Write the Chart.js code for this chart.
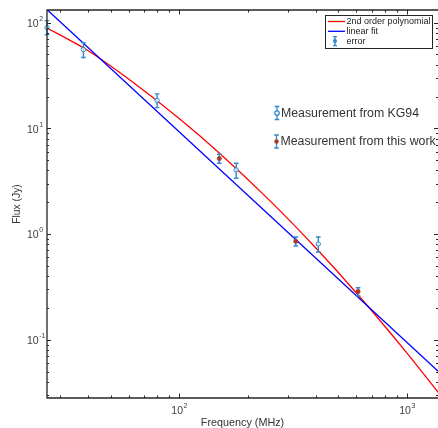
<!DOCTYPE html>
<html>
<head>
<meta charset="utf-8">
<script src="https://cdn.jsdelivr.net/npm/chart.js@4.4.1/dist/chart.umd.min.js"></script>
<style>
  html, body { margin: 0; padding: 0; background: #fff; }
</style>
</head>
<body>
<canvas id="fluxChart" width="438" height="428"></canvas>
<script>
// Measurements from KG94 (MHz, Jy) with error bar ends
const kgFreq = [26.3, 38, 80, 178, 408];
const kgFlux = [89.8, 55.6, 18.4, 4.05, 0.805];
const kgLow  = [77.1, 46.8, 15.7, 3.37, 0.676];
const kgHigh = [104.5, 64.7, 21.2, 4.68, 0.938];

// Measurements from this work
const workFreq = [150, 325, 610];
const workFlux = [5.18, 0.853, 0.286];
const workLow  = [4.68, 0.771, 0.26];
const workHigh = [5.69, 0.938, 0.31];

// 2nd order polynomial fit
const polyFreq = [26.3, 40, 60, 100, 150, 250, 400, 600, 1000, 1370];
const polyFlux = [89, 54, 29.3, 12.4, 5.85, 2.07, 0.73, 0.277, 0.0748, 0.0318];

// linear fit (straight line in log-log)
const linFreq = [26.3, 1370];
const linFlux = [133, 0.0503];

// decade tick labels
const xDecades = [100, 1000];
const yDecades = [0.1, 1, 10, 100];

const FONT = '"Liberation Sans", Arial, Helvetica, sans-serif';
const SPINE = '#262626';
const BAR_BLUE = '#2f89cc';
const WORK_RED = '#a8382a';

const toPts = (xs, ys) => xs.map((x, i) => ({ x: x, y: ys[i] }));

// minor tick values (2..9 x 10^k) inside [min, max]
function minorValues(min, max) {
  const out = [];
  for (let k = Math.floor(Math.log10(min)); k <= Math.ceil(Math.log10(max)); k++) {
    for (let m = 1; m <= 9; m++) {
      const v = m * Math.pow(10, k);
      if (v >= min && v <= max) out.push({ v: v, major: m === 1 });
    }
  }
  return out;
}

function drawErrorBars(ctx, chart, freq, low, high) {
  const xs = chart.scales.x, ys = chart.scales.y;
  ctx.save();
  ctx.strokeStyle = BAR_BLUE;
  ctx.lineWidth = 1.4;
  freq.forEach((f, i) => {
    const px = xs.getPixelForValue(f);
    const y1 = ys.getPixelForValue(low[i]);
    const y2 = ys.getPixelForValue(high[i]);
    ctx.beginPath();
    ctx.moveTo(px, y1); ctx.lineTo(px, y2);
    ctx.moveTo(px - 2.3, y1); ctx.lineTo(px + 2.3, y1);
    ctx.moveTo(px - 2.3, y2); ctx.lineTo(px + 2.3, y2);
    ctx.stroke();
  });
  ctx.restore();
}

// error bars go on top of the fit lines, under the markers
const errorBars = {
  id: 'errorBars',
  afterDatasetDraw(chart, args) {
    if (args.index !== 1) return;
    const ctx = chart.ctx;
    drawErrorBars(ctx, chart, kgFreq, kgLow, kgHigh);
    drawErrorBars(ctx, chart, workFreq, workLow, workHigh);
  }
};

function powerLabel(ctx, x, y, exp, align) {
  ctx.font = '10.5px ' + FONT;
  const base = '10';
  const bw = ctx.measureText(base).width;
  ctx.font = '7px ' + FONT;
  const ew = ctx.measureText(exp).width;
  let left = x;
  if (align === 'center') left = x - (bw + ew) / 2;
  ctx.font = '10.5px ' + FONT;
  ctx.textBaseline = 'middle';
  ctx.textAlign = 'left';
  ctx.fillText(base, left, y);
  ctx.font = '7px ' + FONT;
  ctx.fillText(exp, left + bw + 0.5, y - 5);
}

const frame = {
  id: 'frame',
  afterDraw(chart) {
    const ctx = chart.ctx;
    const a = chart.chartArea;
    const xs = chart.scales.x, ys = chart.scales.y;
    ctx.save();
    // left, top and bottom spines (right spine falls just outside the canvas)
    ctx.strokeStyle = SPINE;
    ctx.lineWidth = 1.3;
    ctx.beginPath();
    ctx.moveTo(a.right, a.top); ctx.lineTo(a.left, a.top);
    ctx.lineTo(a.left, a.bottom); ctx.lineTo(a.right, a.bottom);
    ctx.stroke();

    // inward ticks
    ctx.lineWidth = 1;
    minorValues(xs.min, xs.max).forEach(t => {
      const px = Math.round(xs.getPixelForValue(t.v)) + 0.5;
      const len = t.major ? 4.5 : 2.5;
      ctx.beginPath();
      ctx.moveTo(px, a.bottom); ctx.lineTo(px, a.bottom - len);
      ctx.moveTo(px, a.top); ctx.lineTo(px, a.top + len);
      ctx.stroke();
    });
    minorValues(ys.min, ys.max).forEach(t => {
      const py = Math.round(ys.getPixelForValue(t.v)) + 0.5;
      const len = t.major ? 4 : 2;
      ctx.beginPath();
      ctx.moveTo(a.left, py); ctx.lineTo(a.left + len, py);
      ctx.moveTo(a.right, py); ctx.lineTo(a.right - len, py);
      ctx.stroke();
    });

    // tick labels
    ctx.fillStyle = '#404040';
    xDecades.forEach(v => {
      powerLabel(ctx, xs.getPixelForValue(v), a.bottom + 13, String(Math.round(Math.log10(v))), 'center');
    });
    yDecades.forEach(v => {
      powerLabel(ctx, 27, ys.getPixelForValue(v) + 1.5, String(Math.round(Math.log10(v))), 'left');
    });

    // legend box
    const rows = [
      { text: '2nd order polynomial', color: '#ff0000', type: 'line' },
      { text: 'linear fit', color: '#0000ff', type: 'line' },
      { text: 'error', color: BAR_BLUE, type: 'bar' }
    ];
    const bx = 325, by = 15, bw = 107, bh = 33;
    ctx.fillStyle = '#fff';
    ctx.fillRect(bx, by, bw, bh);
    ctx.strokeStyle = SPINE;
    ctx.lineWidth = 1;
    ctx.strokeRect(bx + 0.5, by + 0.5, bw, bh);
    ctx.font = '9px ' + FONT;
    ctx.textBaseline = 'middle';
    ctx.textAlign = 'left';
    rows.forEach((r, i) => {
      const ry = by + 6.5 + i * 9.8;
      if (r.type === 'line') {
        ctx.strokeStyle = r.color;
        ctx.lineWidth = 1.3;
        ctx.beginPath();
        ctx.moveTo(bx + 3, ry); ctx.lineTo(bx + 20, ry);
        ctx.stroke();
      } else {
        ctx.strokeStyle = r.color;
        ctx.lineWidth = 1.4;
        ctx.beginPath();
        ctx.moveTo(bx + 10, ry - 4.5); ctx.lineTo(bx + 10, ry + 4.5);
        ctx.moveTo(bx + 8, ry - 4.5); ctx.lineTo(bx + 12, ry - 4.5);
        ctx.moveTo(bx + 8, ry + 4.5); ctx.lineTo(bx + 12, ry + 4.5);
        ctx.stroke();
        ctx.fillStyle = r.color;
        ctx.beginPath(); ctx.arc(bx + 10, ry, 2, 0, Math.PI * 2); ctx.fill();
      }
      ctx.fillStyle = '#222';
      ctx.fillText(r.text, bx + 21.5, ry + 0.5);
    });

    // in-plot annotations
    const notes = [
      { text: 'Measurement from KG94', x: 277, y: 113, open: true },
      { text: 'Measurement from this work', x: 276.5, y: 141.5, open: false }
    ];
    notes.forEach(n => {
      ctx.strokeStyle = BAR_BLUE;
      ctx.lineWidth = 1.3;
      ctx.beginPath();
      ctx.moveTo(n.x, n.y - 6.5); ctx.lineTo(n.x, n.y + 6.5);
      ctx.moveTo(n.x - 2.3, n.y - 6.5); ctx.lineTo(n.x + 2.3, n.y - 6.5);
      ctx.moveTo(n.x - 2.3, n.y + 6.5); ctx.lineTo(n.x + 2.3, n.y + 6.5);
      ctx.stroke();
      ctx.beginPath(); ctx.arc(n.x, n.y, 2.2, 0, Math.PI * 2);
      if (n.open) {
        ctx.fillStyle = '#fff'; ctx.fill(); ctx.stroke();
      } else {
        ctx.fillStyle = WORK_RED; ctx.fill();
      }
      ctx.fillStyle = '#333';
      ctx.font = '12.3px ' + FONT;
      ctx.textBaseline = 'middle';
      ctx.fillText(n.text, n.x + 4, n.y + 0.5);
    });
    ctx.restore();
  }
};

const ctx = document.getElementById('fluxChart').getContext('2d');
const fluxChart = new Chart(ctx, {
  type: 'line',
  data: {
    datasets: [
      {
        label: '2nd order polynomial',
        data: toPts(polyFreq, polyFlux),
        borderColor: '#ff0000',
        borderWidth: 1.3,
        pointRadius: 0,
        cubicInterpolationMode: 'monotone',
        order: 4
      },
      {
        label: 'linear fit',
        data: toPts(linFreq, linFlux),
        borderColor: '#0000ff',
        borderWidth: 1.3,
        pointRadius: 0,
        order: 3
      },
      {
        label: 'Measurement from KG94',
        data: toPts(kgFreq, kgFlux),
        showLine: false,
        pointRadius: 2.2,
        pointBorderWidth: 1,
        pointBorderColor: BAR_BLUE,
        pointBackgroundColor: 'rgba(255,255,255,0.7)',
        clip: false,
        order: 2
      },
      {
        label: 'Measurement from this work',
        data: toPts(workFreq, workFlux),
        showLine: false,
        pointRadius: 2.2,
        pointBorderWidth: 0.5,
        pointBorderColor: WORK_RED,
        pointBackgroundColor: WORK_RED,
        clip: false,
        order: 1
      }
    ]
  },
  options: {
    responsive: false,
    animation: false,
    devicePixelRatio: 1,
    layout: { autoPadding: false, padding: { top: 10, right: 0, left: 0, bottom: 0 } },
    plugins: {
      legend: { display: false },
      tooltip: { enabled: false }
    },
    scales: {
      x: {
        type: 'logarithmic',
        min: 26.3,
        max: 1368,
        grid: { display: false },
        border: { display: false },
        ticks: { display: false },
        title: {
          display: true,
          text: 'Frequency (MHz)',
          color: '#333',
          font: { family: FONT, size: 10.8 },
          padding: { top: 0, bottom: -1.5 }
        },
        afterFit: (scale) => { scale.height = 30; }
      },
      y: {
        type: 'logarithmic',
        min: 0.0281,
        max: 131.8,
        grid: { display: false },
        border: { display: false },
        ticks: { display: false },
        title: {
          display: true,
          text: 'Flux (Jy)',
          color: '#333',
          font: { family: FONT, size: 10.3 },
          padding: { top: 11.3, bottom: 0 }
        },
        afterFit: (scale) => { scale.width = 47; }
      }
    }
  },
  plugins: [errorBars, frame]
});
</script>
</body>
</html>
